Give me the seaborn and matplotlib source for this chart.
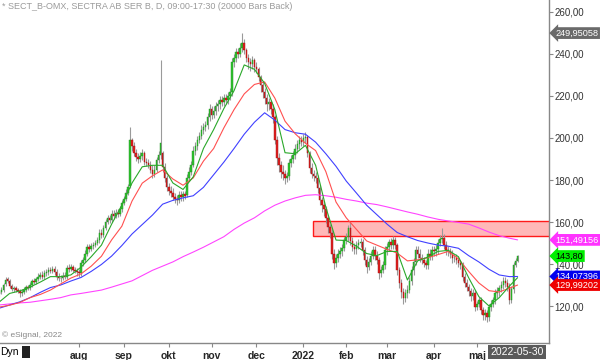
import matplotlib
matplotlib.use("Agg")
import matplotlib.pyplot as plt
import matplotlib.transforms as mtransforms
from matplotlib.patches import Rectangle
import numpy as np
import pandas as pd
import seaborn as sns

# daily bars, SECT_B (weekdays 2021-06-08 .. 2022-05-30)
dates = pd.bdate_range("2021-06-08", "2022-05-30")

opens = [
    125.5, 126.5, 127.5, 130.5, 133, 132, 129.5, 128, 128.5, 127.5,
    127, 126, 126.5, 127.5, 129, 128.5, 130, 132, 131.5, 133,
    134, 135, 134, 135.5, 136, 137, 136.5, 137.5, 136, 134,
    133.5, 133.3, 134.5, 134, 138, 137.5, 138.5, 137, 136.5, 136,
    135.5, 140.5, 142, 145, 148, 147, 148.5, 149, 150, 151.4,
    155, 154, 157, 160, 162, 161, 164, 163, 164.5, 164,
    166, 169, 171, 174, 177, 199, 196, 193, 191, 190,
    191.5, 193, 188.6, 188, 187, 185, 183, 185, 189.5, 192,
    193, 186, 181, 176.7, 175, 174, 172, 171, 170.5, 173,
    172, 173.5, 173, 181, 184, 187, 194, 196, 199, 201,
    204, 205, 206, 210, 214, 211, 213, 215, 216, 218,
    217, 219, 218, 220, 222, 236, 238, 241, 240, 243,
    245, 242, 238, 236, 235, 237, 234, 233, 229, 225,
    222, 219, 216, 217, 214, 210, 199, 190.5, 187, 184,
    183, 181, 182, 188, 190, 192, 195, 197, 199, 198,
    200, 200.5, 193, 185.7, 183, 182, 181, 176, 170.5, 168,
    166, 162, 157.6, 155, 145, 140.5, 143, 145, 146, 147.6,
    151.4, 153, 157, 151, 148, 147, 149, 150, 150.5, 146.7,
    142, 138.6, 141, 144, 146.7, 144, 142, 135.7, 137, 139.5,
    146.7, 148, 150.5, 149, 151.4, 149, 137, 131, 126.7, 124,
    126, 127.6, 132, 137, 141, 146.7, 145, 143, 142, 140.5,
    139.5, 145, 144, 146.7, 146, 147, 150, 152, 152.6, 149,
    146.7, 146, 145, 142.7, 143, 142, 140.5, 139.5, 134, 131,
    129, 127, 125, 126, 119.5, 121, 122.9, 118, 115.7, 116.5,
    114.8, 119.5, 121, 122.9, 126, 127, 128.6, 130, 132, 131,
    129, 123, 128, 139.5, 141.5,
]
highs = [
    128, 129, 131, 134, 134, 133, 130.5, 129.5, 129.5, 128.5,
    128, 128, 129, 130, 130, 131.5, 133, 133.5, 134, 135.5,
    136, 136.5, 137, 137.5, 138.5, 138.5, 139, 139, 137.5, 135.5,
    135, 136, 136, 139.5, 140, 140, 139.5, 138.5, 138, 137.5,
    142, 143.5, 146.5, 149.5, 149.5, 150, 150.5, 151.5, 153, 156.5,
    156.5, 158.5, 161.5, 163.5, 163.5, 165.5, 165.5, 166, 166, 167.5,
    170.5, 172.5, 175.5, 178, 205, 200, 198, 195, 193, 193.5,
    195, 194, 190.5, 190, 189, 187, 187, 191, 194, 237,
    194, 188, 182.5, 178.5, 177, 176, 174, 173, 175, 175,
    175, 175, 183, 186, 189, 196, 198, 201, 203, 206,
    207, 208, 212, 216, 215, 215, 217, 218, 220, 220,
    221, 221, 222, 224, 238, 240, 243, 243, 245, 250,
    247, 243, 240, 238, 239, 238, 236, 234, 230, 227,
    224, 221, 219, 218, 216, 211, 201, 193, 189, 187,
    185, 184, 190, 192, 194, 197, 199, 201, 201, 202,
    203, 201.5, 194, 188, 185, 184, 182.5, 177.5, 172, 170,
    167.5, 163, 159, 156.5, 147, 145, 147, 148, 149.5, 153,
    155, 158.5, 160, 153, 150, 151, 152, 152.5, 152, 148,
    144, 143, 146, 148.5, 148.5, 146, 143.5, 139, 141.5, 148.5,
    150, 152, 152.5, 153.5, 153, 150, 138.5, 133, 128.5, 128,
    130, 134, 139, 143, 148.5, 148.5, 147, 145, 143.5, 142,
    147, 147, 148.5, 148.5, 149, 152, 154, 157, 154.5, 151,
    148.5, 147.5, 146.5, 145, 145, 143.5, 142, 141, 135.5, 133,
    130.5, 128.5, 128, 127.5, 122.5, 124.5, 124.5, 119.5, 118.5, 118,
    121, 123, 124.5, 128, 129, 130, 132, 134, 134, 133,
    131, 129.5, 141, 143, 144.3,
]
lows = [
    124.5, 125.5, 126.5, 129.5, 131, 128.5, 127, 126.5, 126.5, 126,
    124.5, 125, 125.5, 126.5, 127.5, 127.5, 129, 130.5, 130.5, 132,
    133, 133, 133, 134.5, 135, 135.5, 135.5, 135, 132.5, 132,
    131.5, 132.5, 133, 133, 136, 136.5, 136, 135.5, 134.5, 134,
    134.5, 139, 141, 144, 145.5, 146, 147, 148, 149, 150,
    152.5, 153, 156, 159, 159.5, 160, 161.5, 162, 162.5, 163,
    165, 168, 170, 173, 176, 194, 191.5, 189, 188, 188.5,
    189.5, 187, 186.5, 185.5, 183.5, 181, 181.5, 184, 188, 190,
    184, 179, 175, 173, 172, 170.5, 169, 168, 169, 170,
    170, 171, 172, 179.5, 182.5, 186, 192, 194.5, 197.5, 199.5,
    202, 203.5, 204.5, 208, 209, 209.5, 211, 213, 214, 215,
    215, 216, 216, 218, 220, 234, 236, 238, 238.5, 241,
    240, 236, 233, 232, 233, 231.5, 231, 227, 222, 219,
    216, 213, 213.5, 211.5, 207, 197, 187, 184, 181, 180,
    178, 179, 180, 186, 188, 190, 193, 195, 196, 196,
    197.5, 191, 183.5, 181, 179.5, 178.5, 174, 168, 165, 163,
    159.5, 155, 152.5, 142.5, 137.5, 138.5, 141, 143, 144, 146,
    149.5, 151, 149, 146, 145, 145, 147, 148, 144.5, 139.5,
    135.5, 137, 139.5, 142.5, 142, 140, 133, 134, 135.5, 137.5,
    144.5, 146, 147, 147, 147, 135, 128.5, 124, 121, 122,
    124, 126, 130, 135, 139.5, 143, 141, 140, 138.5, 137.5,
    137.5, 142, 142, 144, 144, 145, 148.5, 150, 147, 144.5,
    144, 143, 140.5, 141, 140, 138.5, 137.5, 132, 129, 127,
    125, 122.5, 123, 117.5, 118, 119.5, 116, 113.5, 113.5, 112.5,
    113, 117.5, 119.5, 121, 124, 125, 126.5, 128, 129, 127,
    121, 121.5, 126, 138.5, 141,
]
closes = [
    126.5, 127.5, 130, 132.5, 132, 129.5, 128, 128.5, 127.5, 127,
    126, 126.5, 127.5, 129, 128.5, 130, 132, 131.5, 133, 134,
    134.8, 134, 135.5, 136, 137, 136.5, 137.5, 136, 134, 133.5,
    133.3, 134.5, 134, 138, 137.5, 138.5, 137, 136.5, 136, 135.5,
    140.5, 142, 145, 148, 147, 148.5, 149, 150, 151.4, 155,
    154, 157, 160, 162, 161, 164, 163, 164.5, 164, 166,
    169, 171, 174, 176.7, 199, 196, 193, 191, 190, 191.5,
    193, 188.6, 188, 187, 185, 183, 185, 189.5, 192, 197.6,
    186, 181, 176.7, 175, 174, 172, 171, 170.5, 173, 172,
    173.5, 172.5, 181, 184, 187, 194, 196, 199, 201, 204,
    205, 206, 210, 214, 211, 213, 215, 216, 218, 217,
    219, 218, 220, 222, 236, 238, 241, 240, 243, 245,
    242, 238, 236, 235, 237, 234, 233, 229, 225, 222,
    219, 216, 217, 214, 210, 199, 190.5, 187, 184, 183,
    181, 182, 188, 190, 192, 195, 197, 199, 198, 200,
    200.5, 193, 185.7, 183, 182, 181, 176, 170.5, 168, 166,
    162, 157.6, 155, 145, 140.5, 143, 145, 146, 147.6, 151.4,
    153, 157, 151, 148, 147, 149, 150, 150.5, 146.7, 142,
    138.6, 141, 144, 146.7, 144, 142, 135.7, 137, 139.5, 146.7,
    148, 150.5, 149, 151.4, 149, 137, 131, 126.7, 124, 126,
    127.6, 132, 137, 141, 146.7, 145, 143, 142, 140.5, 139.5,
    145, 144, 146.7, 146, 147, 150, 152, 152.6, 149, 146.7,
    146, 145, 142.7, 143, 142, 140.5, 139.5, 134, 131, 129,
    127, 125, 126, 119.5, 121, 122.9, 118, 115.7, 116.5, 114.8,
    119.5, 121, 122.9, 126, 127, 128.6, 130, 132, 131, 129,
    123, 128, 139.5, 141.5, 143.8,
]

# moving averages
ma_bars = list(range(0, 251, 5)) + [254]
ma_green = [
    122, 126, 127.2, 129, 131.4, 134, 134, 134.8, 138.5, 143.5,
    149, 159, 168, 178.6, 186.3, 187, 187, 178.6, 175.5, 181.5,
    195, 204, 214, 222.5, 234.8, 232.7, 226, 213.5, 193, 192.5,
    196.5, 187, 167, 151.4, 151.2, 148.5, 145, 144, 146, 146,
    132.4, 141.5, 143.3, 146, 146.5, 143.5, 133.5, 124.5, 120, 124,
    129.5, 133.5,
]
ma_red = [
    119.5, 120.4, 121.7, 124, 125.5, 127.6, 130.5, 133.3, 135.3, 139,
    143.7, 151.5, 158, 170, 178.5, 182, 184.8, 180.5, 177.5, 181,
    189, 195, 204.8, 213.5, 221, 225.5, 226.7, 219, 208, 202,
    197.5, 194, 184, 169.5, 162, 156.5, 151, 149, 147, 145.2,
    141.5, 142, 143, 144.5, 146, 142.5, 136.5, 131, 127.3, 126.7,
    128.5, 129.99,
]
ma_blue = [
    119, 120.5, 122, 124, 126.5, 128.8, 130, 131.9, 133.6, 136.5,
    139.8, 143.8, 148.8, 154.3, 158.8, 163.3, 168.5, 170.3, 171.5, 172.5,
    176.5, 182.5, 188.5, 195, 201.8, 207.5, 212, 208.5, 204, 202.5,
    201.8, 198, 192.5, 186.5, 179.5, 173.8, 168, 163.5, 159, 155,
    153, 151.2, 150, 149, 148.5, 147.5, 144, 141, 137.5, 134.8,
    134, 134.07,
]
ma_magenta = [
    120.5, 121, 121.5, 121.8, 122.5, 123.2, 124, 125.3, 126, 126.8,
    127.6, 129, 130.5, 132, 134.5, 137, 139, 141, 143.5, 145.7,
    148, 150.5, 153, 156.5, 159.5, 162, 165.3, 168, 170, 171.5,
    172.7, 173, 172.5, 171.8, 170.8, 170, 169, 168.3, 167.2, 166,
    164.8, 163.7, 162.4, 161.3, 160.5, 159.8, 159, 157.2, 155.2, 153.5,
    152.3, 151.49,
]

# resistance zone drawn on the chart
zone_start_bar = 153.7
zone_low, zone_high = 153.3, 160.5

month_starts = ["2021-08", "2021-09", "2021-10", "2021-11", "2021-12",
                "2022-01", "2022-02", "2022-03", "2022-04", "2022-05"]
month_labels = ["aug", "sep", "okt", "nov", "dec", "2022", "feb", "mar", "apr", "maj"]
y_ticks = [120, 140, 160, 180, 200, 220, 240, 260]

# right-scale tags (value, text as shown, background, text colour)
tag_values = [249.950584, 151.491566, 143.80, 134.07396, 129.992025]
tag_texts = ["249,95058", "151,49156", "143,80", "134,07396", "129,99202"]
tag_bg = ["#6a6a6a", "#ff33ff", "#00ee00", "#0000ee", "#ee0000"]
tag_fg = ["white", "white", "black", "white", "white"]

sns.set_style("white")
plt.rcParams["font.family"] = ["Liberation Sans", "DejaVu Sans"]

fig = plt.figure(figsize=(6, 3.6), dpi=100)
ax = fig.add_axes([0, 1 - 343 / 360, 549 / 600, 343 / 360])

bars = np.arange(len(dates))
o = np.array(opens)
c = np.array(closes)
up = c >= o

ax.add_patch(Rectangle((zone_start_bar, zone_low), 400, zone_high - zone_low,
                       facecolor="#ffb8b8", edgecolor="#ff1a1a", lw=1, zorder=0.5))

ax.vlines(bars, lows, highs, color="#9a9a9a", lw=0.8, zorder=1)
ax.bar(bars[up], (c - o)[up], bottom=o[up], width=0.75,
       color="#2fc42f", edgecolor="#1f8f1f", lw=0.3, zorder=2)
ax.bar(bars[~up], (o - c)[~up], bottom=c[~up], width=0.75,
       color="#e02020", edgecolor="#a01010", lw=0.3, zorder=2)

for vals, col in [(ma_magenta, "#ff44ff"), (ma_blue, "#4040ff"),
                  (ma_red, "#ff5050"), (ma_green, "#2aa82a")]:
    sns.lineplot(x=ma_bars, y=vals, color=col, lw=0.8, ax=ax, zorder=3)

ax.set_xlim(0.27, 269.4)
ax.set_ylim(102.4, 265.7)

tick_pos = [int(np.searchsorted(dates, pd.Timestamp(m + "-01"))) for m in month_starts]
ax.set_xticks(tick_pos)
ax.set_xticklabels(month_labels, fontsize=7.5, fontweight="bold")
ax.yaxis.tick_right()
ax.set_yticks(y_ticks)
ax.set_yticklabels([f"{v:.2f}".replace(".", ",") for v in y_ticks], fontsize=7, color="#333333")
ax.tick_params(axis="y", direction="out", length=3, width=0.8, color="#888888", pad=1, right=True)
ax.tick_params(axis="x", direction="out", length=3, width=0.8, color="#888888", pad=3, bottom=True)

for side in ["top", "left"]:
    ax.spines[side].set_visible(False)
for side in ["right", "bottom"]:
    ax.spines[side].set_color("#888888")
    ax.spines[side].set_linewidth(1)
ax.set_xlabel("")
ax.set_ylabel("")

trans = mtransforms.blended_transform_factory(ax.transAxes, ax.transData)
for val, txt, bg, fg in zip(tag_values, tag_texts, tag_bg, tag_fg):
    ax.text(1.012, val, txt, transform=trans, ha="left", va="center", fontsize=6.6,
            color=fg, clip_on=False, zorder=5,
            bbox=dict(boxstyle="larrow,pad=0.15", fc=bg, ec="none"))

fig.text(0.004, 0.982, "* SECT_B-OMX, SECTRA AB SER B, D, 09:00-17:30 (20000 Bars Back)",
         fontsize=6.5, color="#9a9a9a", ha="left", va="center")
fig.text(0.004, 1 - 335 / 360, "\u00a9 eSignal, 2022", fontsize=6, color="#888888",
         ha="left", va="center")
fig.text(0.0, 1 - 352 / 360, "Dyn", fontsize=7.5, color="black", ha="left", va="center")
fig.patches.append(Rectangle((22 / 600, 1 - 358 / 360), 8 / 600, 12 / 360,
                             transform=fig.transFigure, facecolor="#222222", edgecolor="none"))
fig.text(517 / 600, 1 - 352 / 360, "2022-05-30", fontsize=7.5, color="white",
         ha="center", va="center",
         bbox=dict(boxstyle="square,pad=0.2", fc="#5a5a5a", ec="none"))

fig.savefig("out.png", dpi=100)
